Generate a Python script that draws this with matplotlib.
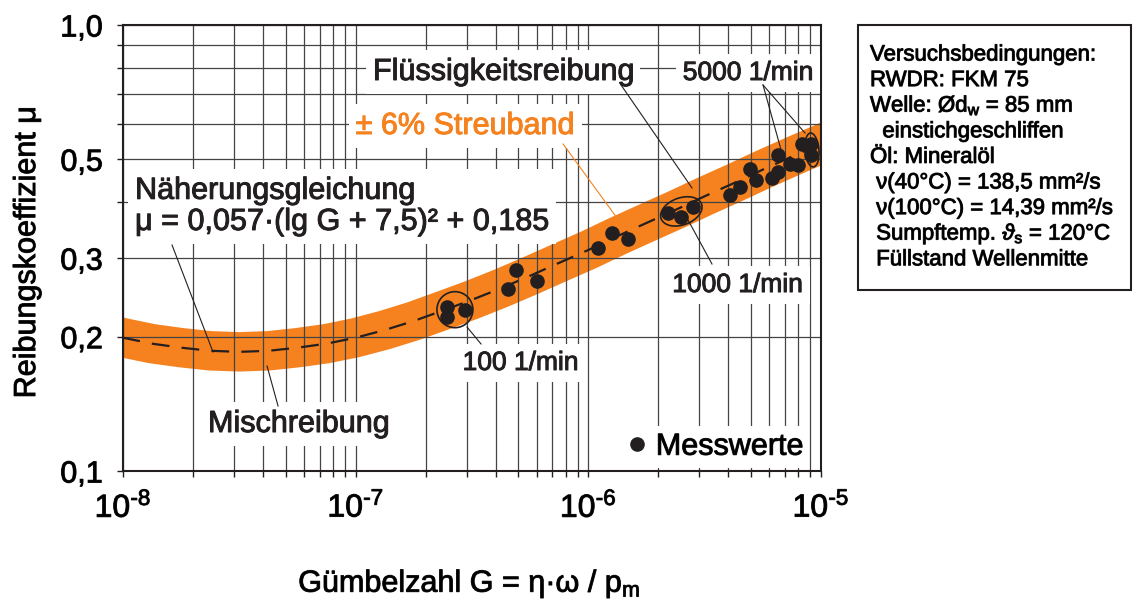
import matplotlib
matplotlib.use('Agg')
import matplotlib.pyplot as plt
import matplotlib.patheffects as pe
from matplotlib.patches import Ellipse, Rectangle
from matplotlib.transforms import ScaledTranslation
from matplotlib.ticker import FixedLocator, FixedFormatter, NullFormatter, LogLocator

plt.rcParams['font.family'] = ['Liberation Sans', 'DejaVu Sans']
plt.rcParams['mathtext.fontset'] = 'custom'
plt.rcParams['mathtext.rm'] = 'Liberation Sans'
plt.rcParams['mathtext.it'] = 'Liberation Sans:italic'
plt.rcParams['mathtext.bf'] = 'Liberation Sans:bold'

# Näherungskurve (reicht etwas über den Rand hinaus)
curve_G = [5.62e-9, 7.50e-9, 1e-8, 1.33e-8, 1.78e-8, 2.37e-8, 3.16e-8, 4.22e-8,
           5.62e-8, 7.50e-8, 1e-7, 1.33e-7, 1.78e-7, 2.37e-7, 3.16e-7, 4.22e-7,
           5.62e-7, 7.50e-7, 1e-6, 1.33e-6, 1.78e-6, 2.37e-6, 3.16e-6, 4.22e-6,
           5.62e-6, 7.50e-6, 1e-5, 1.33e-5, 1.78e-5]
curve_mu = [0.217, 0.207, 0.199, 0.193, 0.189, 0.186, 0.185, 0.186,
            0.189, 0.193, 0.199, 0.207, 0.217, 0.229, 0.242, 0.257,
            0.274, 0.293, 0.313, 0.336, 0.360, 0.385, 0.413, 0.442,
            0.474, 0.507, 0.541, 0.578, 0.616]

# Messwerte
mess_G = [2.46e-7, 2.48e-7, 2.95e-7, 4.50e-7, 4.88e-7, 6.00e-7, 1.10e-6, 1.26e-6,
          1.48e-6, 2.19e-6, 2.49e-6, 2.83e-6, 4.06e-6, 4.48e-6, 4.94e-6, 5.25e-6,
          6.14e-6, 6.55e-6, 6.55e-6, 7.35e-6, 7.98e-6, 8.26e-6, 9.02e-6, 9.10e-6]
mess_mu = [0.233, 0.222, 0.230, 0.256, 0.282, 0.267, 0.317, 0.342,
           0.331, 0.378, 0.371, 0.390, 0.416, 0.434, 0.476, 0.449,
           0.455, 0.469, 0.511, 0.488, 0.485, 0.540, 0.540, 0.511]

x_ticks = [1e-8, 1e-7, 1e-6, 1e-5]
x_ticklabels = [r'$\mathregular{10^{\text{-}8}}$', r'$\mathregular{10^{\text{-}7}}$',
                r'$\mathregular{10^{\text{-}6}}$', r'$\mathregular{10^{\text{-}5}}$']
y_ticks = [0.1, 0.2, 0.3, 0.5, 1.0]
y_ticklabels = ['0,1', '0,2', '0,3', '0,5', '1,0']
y_minor = [0.4, 0.6, 0.7, 0.8, 0.9]

info_lines = ['Versuchsbedingungen:', 'RWDR: FKM 75', r'Welle: Ød$_{\mathregular{w}}$ = 85 mm',
              '  einstichgeschliffen', 'Öl: Mineralöl', ' ν(40°C) = 138,5 mm²/s',
              ' ν(100°C) = 14,39 mm²/s', r' Sumpftemp. $\vartheta_{\mathregular{s}}$ = 120°C',
              ' Füllstand Wellenmitte']

orange = '#F5821F'
dark = '#231F20'


def heavy(c):
    return [pe.withStroke(linewidth=0.7, foreground=c)]


fig = plt.figure(figsize=(11.34, 6.04), dpi=100)
ax = fig.add_axes([0.1085, 0.2202, 0.6155, 0.7384])
ax.set_xscale('log')
ax.set_yscale('log')

ax.plot(curve_G, curve_mu, color=orange, lw=28.4, solid_capstyle='butt',
        solid_joinstyle='round', zorder=1)
ax.plot(curve_G, curve_mu, color=dark, lw=1.6, dashes=(8, 5.5), zorder=3)
ax.plot(mess_G, mess_mu, 'o', color=dark, ms=9.5, zorder=4, label='Messwerte')

ax.set_xlim(1e-8, 1e-5)
ax.set_ylim(0.1, 1.0)

ax.xaxis.set_major_locator(FixedLocator(x_ticks))
ax.xaxis.set_major_formatter(FixedFormatter(x_ticklabels))
ax.xaxis.set_minor_locator(LogLocator(base=10, subs=range(2, 10)))
ax.xaxis.set_minor_formatter(NullFormatter())
ax.yaxis.set_major_locator(FixedLocator(y_ticks))
ax.yaxis.set_major_formatter(FixedFormatter(y_ticklabels))
ax.yaxis.set_minor_locator(FixedLocator(y_minor))
ax.yaxis.set_minor_formatter(NullFormatter())

ax.grid(which='both', color='#444444', lw=0.9)
ax.tick_params(which='both', direction='out', length=4.5, width=1, color=dark)
ax.tick_params(axis='x', labelsize=23, pad=11)
ax.tick_params(axis='y', labelsize=22, pad=10)
for s in ax.spines.values():
    s.set_linewidth(1.5)
    s.set_color(dark)
for t in ax.get_xticklabels() + ax.get_yticklabels():
    t.set_path_effects(heavy(dark))

ax.set_xlabel(r'Gümbelzahl G = η·ω / p$_{\mathregular{m}}$', fontsize=22, va='baseline',
              path_effects=heavy(dark))
ax.xaxis.set_label_coords(0.4957, -0.271)
ax.set_ylabel('Reibungskoeffizient μ', fontsize=22, va='center', path_effects=heavy(dark))
ax.yaxis.set_label_coords(-0.1375, 0.489)

box = dict(facecolor='white', edgecolor='none', pad=5)
labels = [(0.5444, 0.8767, 'Flüssigkeitsreibung', 22, 'center', dark),
          (0.8954, 0.8767, '5000 1/min', 19, 'center', dark),
          (0.49, 0.7556, '± 6% Streuband', 22, 'center', orange),
          (0.0172, 0.5404, 'Näherungsgleichung\nμ = 0,057·(lg G + 7,5)² + 0,185', 22, 'left', dark),
          (0.2514, 0.0874, 'Mischreibung', 22, 'center', dark),
          (0.5695, 0.2265, '100 1/min', 19, 'center', dark),
          (0.8804, 0.4013, '1000 1/min', 19, 'center', dark)]
for x, y, s, fs, ha, c in labels:
    ax.text(x, y, s, fontsize=fs, ha=ha, va='baseline', color=c, linespacing=1.05,
            transform=ax.transAxes, bbox=box, zorder=5, path_effects=heavy(c))

# Hinweislinien
leaders = [((0.0702, 0.5067), (0.1289, 0.2668), dark),
           ((0.2063, 0.2354), (0.2221, 0.1457), dark),
           ((0.4928, 0.3229), (0.5129, 0.2848), dark),
           ((0.6304, 0.7332), (0.7077, 0.5673), orange),
           ((0.7135, 0.8655), (0.8152, 0.6345), dark),
           ((0.8095, 0.5628), (0.8438, 0.4641), dark),
           ((0.9169, 0.8655), (0.9456, 0.7040), dark),
           ((0.9169, 0.8655), (0.9771, 0.7578), dark)]
for (x1, y1), (x2, y2), c in leaders:
    ax.plot([x1, x2], [y1, y2], color=c, lw=0.8, transform=ax.transAxes, zorder=6)


def ring(G, mu, w, h, angle):
    tr = fig.dpi_scale_trans + ScaledTranslation(G, mu, ax.transData)
    ax.add_patch(Ellipse((0, 0), w / 100, h / 100, angle=angle, transform=tr,
                         fill=False, ec=dark, lw=1.2, zorder=6))


ring(2.67e-7, 0.230, 36, 36, 0)
ring(2.51e-6, 0.382, 43, 27, 20)
ring(9.14e-6, 0.5245, 14, 34, 5)

leg = ax.legend(loc='lower right', bbox_to_anchor=(0.983, 0.007), frameon=True, fancybox=False,
                framealpha=1, edgecolor='none', fontsize=22, handlelength=0.5,
                handletextpad=0.35, borderpad=0.2, borderaxespad=0)
leg.set_zorder(6)
for t in leg.get_texts():
    t.set_path_effects(heavy(dark))

# Versuchsbedingungen
W, H = 1134, 604
fig.add_artist(Rectangle((858 / W, 1 - 290 / H), (1131 - 858) / W, (290 - 25) / H,
                         transform=fig.transFigure, fill=False, ec=dark, lw=1.5))
for i, line in enumerate(info_lines):
    fig.text(870 / W, 1 - (60.5 + 25.6 * i) / H, line, fontsize=16, ha='left', va='baseline',
             path_effects=heavy(dark))

fig.savefig('out.png', dpi=100)
